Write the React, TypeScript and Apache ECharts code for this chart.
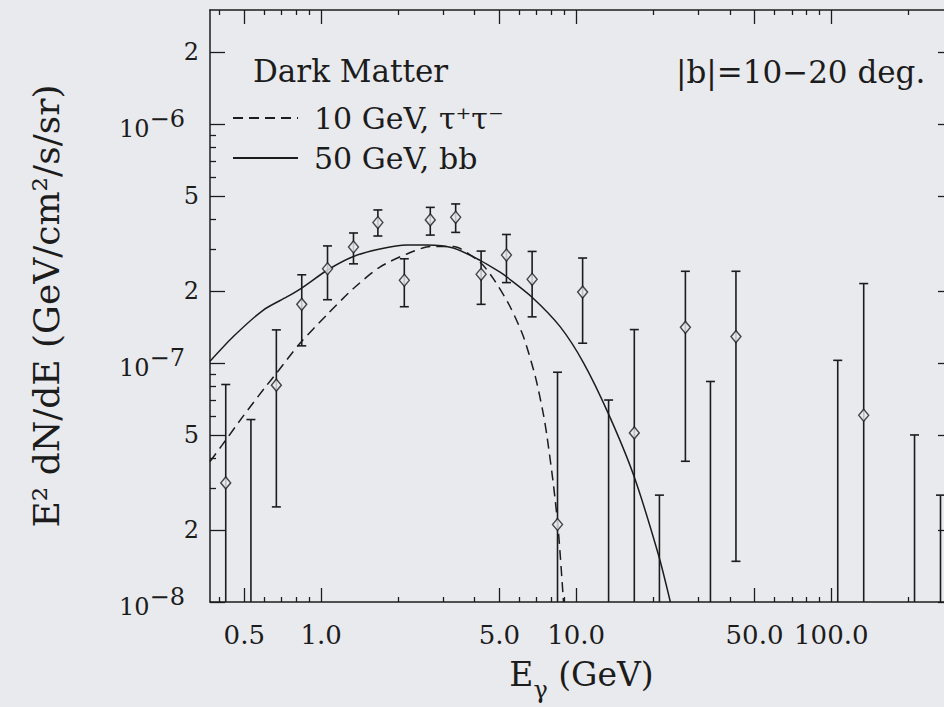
import React, { useEffect, useRef } from "react";
import * as echarts from "echarts";

// ---- data ----
const energies = [0.423, 0.531, 0.668, 0.84, 1.06, 1.34, 1.67, 2.12, 2.68, 3.37, 4.24, 5.33, 6.72, 8.45, 10.6, 13.4, 16.9, 21.2, 26.8, 33.6, 42.3, 106, 134, 212, 268];
const flux = [3.15e-8, null, 8.08e-8, 1.76e-7, 2.48e-7, 3.06e-7, 3.87e-7, 2.22e-7, 3.97e-7, 4.07e-7, 2.35e-7, 2.83e-7, 2.24e-7, 2.11e-8, 1.98e-7, null, 5.1e-8, null, 1.41e-7, null, 1.29e-7, null, 6.05e-8, null, null];
const errHigh = [8.13e-8, 5.8e-8, 1.376e-7, 2.34e-7, 3.09e-7, 3.5e-7, 4.37e-7, 2.73e-7, 4.48e-7, 4.63e-7, 2.94e-7, 3.45e-7, 2.93e-7, 9.15e-8, 2.75e-7, 7.0e-8, 1.38e-7, 2.8e-8, 2.42e-7, 8.37e-8, 2.42e-7, 1.026e-7, 2.15e-7, 5.0e-8, 2.8e-8];
const errLow = [null, null, 2.5e-8, 1.18e-7, 1.84e-7, 2.6e-7, 3.4e-7, 1.72e-7, 3.43e-7, 3.52e-7, 1.76e-7, 2.17e-7, 1.56e-7, null, 1.21e-7, null, null, null, 3.88e-8, null, 1.48e-8, null, null, null, null];

const tauName = "10 GeV, τ⁺τ⁻";
const tauE = [0.367, 0.408, 0.496, 0.603, 0.67, 0.827, 1.053, 1.339, 1.7, 2.17, 2.68, 3.3, 4.2, 4.74, 5.51, 6.21, 6.91, 7.44, 7.68, 8.15, 8.52, 8.92];
const tauF = [3.87e-8, 4.51e-8, 6.01e-8, 7.9e-8, 9.09e-8, 1.21e-7, 1.59e-7, 2.05e-7, 2.52e-7, 2.86e-7, 3.07e-7, 3.07e-7, 2.64e-7, 2.25e-7, 1.72e-7, 1.29e-7, 8.81e-8, 6.1e-8, 4.96e-8, 3.08e-8, 1.97e-8, 1.0e-8];

const bbName = "50 GeV, bb";
const bbE = [0.367, 0.453, 0.594, 0.734, 0.84, 1.06, 1.339, 1.7, 2.17, 2.6, 3.3, 4.2, 5.03, 5.35, 6.7, 8.65, 10.7, 13.4, 16.8, 21.0, 23.4];
const bbF = [1.016e-7, 1.29e-7, 1.666e-7, 1.89e-7, 2.06e-7, 2.45e-7, 2.79e-7, 3.0e-7, 3.12e-7, 3.12e-7, 3.03e-7, 2.69e-7, 2.4e-7, 2.29e-7, 1.89e-7, 1.42e-7, 1.0e-7, 6.11e-8, 3.39e-8, 1.58e-8, 1.0e-8];

const xMajorTicks = [0.5, 1, 5, 10, 50, 100];
const xTickLabels = ["0.5", "1.0", "5.0", "10.0", "50.0", "100.0"];
const xMinorTicks = [0.4, 0.6, 0.7, 0.8, 0.9, 2, 3, 4, 6, 7, 8, 9, 20, 30, 40, 60, 70, 80, 90, 200];
const yMajorTicks = [1e-8, 2e-8, 5e-8, 1e-7, 2e-7, 5e-7, 1e-6, 2e-6];
const yTickLabels = ["10^−8", "2", "5", "10^−7", "2", "5", "10^−6", "2"];
const yMinorTicks = [3e-8, 4e-8, 6e-8, 7e-8, 8e-8, 9e-8, 3e-7, 4e-7, 6e-7, 7e-7, 8e-7, 9e-7];

const X_MIN = 0.367;
const X_MAX = 300;
const Y_MIN = 1e-8;
const Y_MAX = 3e-6;

const L = (v: number) => Math.log10(v);
const BG = "#e9eaee";
const INK = "#1c1c1c";
const FONT = "DejaVu Serif";

function findLabel(v: number, ticks: number[], labels: string[]) {
  for (let i = 0; i < ticks.length; i++) {
    if (Math.abs(L(ticks[i]) - v) < 1e-6) return labels[i];
  }
  return "";
}

function buildOption() {
  const lxMin = L(X_MIN), lxMax = L(X_MAX), lyMin = L(Y_MIN), lyMax = L(Y_MAX);
  const xMaj = xMajorTicks.map(L);
  const xMin = xMinorTicks.map(L);
  const yMaj = yMajorTicks.map(L);
  const yMin = yMinorTicks.map(L);

  const lineSt = { color: INK, width: 1.5 };
  const tickSt = { color: INK, width: 1.3 };

  const xAxisOf = (position: string, showLine: boolean, ticks: number[], len: number, labels: boolean, extra: any = {}) => ({
    type: "value",
    min: lxMin,
    max: lxMax,
    position,
    splitLine: { show: false },
    axisLine: { show: showLine, onZero: false, lineStyle: lineSt },
    axisTick: { show: true, inside: true, length: len, customValues: ticks, lineStyle: tickSt },
    axisLabel: labels
      ? {
          show: true,
          customValues: ticks,
          margin: 20,
          fontSize: 26,
          fontFamily: FONT,
          color: INK,
          formatter: (v: number) => findLabel(v, xMajorTicks, xTickLabels),
        }
      : { show: false },
    ...extra,
  });

  const yAxisOf = (position: string, showLine: boolean, ticks: number[], len: number, labels: boolean, extra: any = {}) => ({
    type: "value",
    min: lyMin,
    max: lyMax,
    position,
    splitLine: { show: false },
    axisLine: { show: showLine, onZero: false, lineStyle: lineSt },
    axisTick: { show: true, inside: true, length: len, customValues: ticks, lineStyle: tickSt },
    axisLabel: labels
      ? {
          show: true,
          customValues: ticks,
          margin: 11,
          fontSize: 24,
          fontFamily: FONT,
          color: INK,
          formatter: (v: number) => {
            const s = findLabel(v, yMajorTicks, yTickLabels);
            if (s.indexOf("^") >= 0) {
              const [b, e] = s.split("^");
              return "{p|" + b + "}{e|" + e + "}";
            }
            return s;
          },
          rich: {
            p: { fontSize: 24, fontFamily: FONT, color: INK, lineHeight: 34, verticalAlign: "bottom" },
            e: { fontSize: 24, fontFamily: FONT, color: INK, verticalAlign: "top", padding: [0, 14, 0, 0] },
          },
        }
      : { show: false },
    ...extra,
  });

  const errData = energies.map((e, i) => [
    L(e),
    L(errHigh[i]),
    errLow[i] != null ? L(errLow[i] as number) : lyMin,
    errLow[i] != null ? 1 : 0,
  ]);
  const pts: number[][] = [];
  energies.forEach((e, i) => {
    if (flux[i] != null) pts.push([L(e), L(flux[i] as number)]);
  });
  const tau = tauE.map((e, i) => [L(e), L(tauF[i])]);
  const bb = bbE.map((e, i) => [L(e), L(bbF[i])]);

  return {
    animation: false,
    backgroundColor: BG,
    grid: { left: 210, right: 0, top: 10, bottom: 99.3, containLabel: false },
    legend: {
      orient: "vertical",
      left: 232,
      top: 103,
      padding: 0,
      itemWidth: 65,
      itemHeight: 14,
      itemGap: 10,
      selectedMode: false,
      itemStyle: { opacity: 0 },
      textStyle: { fontFamily: FONT, fontSize: 30, color: INK, lineHeight: 28, padding: [0, 0, 0, 11] },
      data: [tauName, bbName],
    },
    graphic: [
      { type: "text", x: 253, y: 55, style: { text: "Dark Matter", fontSize: 31, fontFamily: FONT, fill: INK } },
      { type: "text", x: 676, y: 56, style: { text: "|b|=10−20 deg.", fontSize: 31, fontFamily: FONT, fill: INK } },
    ],
    xAxis: [
      xAxisOf("bottom", true, xMaj, 14, true, {
        name: "{m|E}{s|γ}{m| (GeV)}",
        nameLocation: "middle",
        nameGap: 56,
        nameTextStyle: {
          rich: {
            m: { fontSize: 33, fontFamily: FONT, color: INK, lineHeight: 44, verticalAlign: "top" },
            s: { fontSize: 24, fontFamily: FONT, color: INK, verticalAlign: "bottom" },
          },
        },
      }),
      xAxisOf("bottom", false, xMin, 5, false),
      xAxisOf("top", true, xMaj, 14, false),
      xAxisOf("top", false, xMin, 5, false),
    ],
    yAxis: [
      yAxisOf("left", true, yMaj, 15, true, {
        name: "E² dN/dE (GeV/cm²/s/sr)",
        nameLocation: "middle",
        nameGap: 146,
        nameTextStyle: { fontSize: 36, fontFamily: FONT, color: INK, fontWeight: "normal" },
      }),
      yAxisOf("left", false, yMin, 6, false),
      yAxisOf("right", true, yMaj, 15, false),
      yAxisOf("right", false, yMin, 6, false),
    ],
    series: [
      {
        type: "custom",
        name: "errors",
        xAxisIndex: 0,
        yAxisIndex: 0,
        silent: true,
        z: 2,
        data: errData,
        renderItem: (params: any, api: any) => {
          const x = api.value(0);
          const top = api.coord([x, api.value(1)]);
          const bot = api.coord([x, api.value(2)]);
          const st = { stroke: INK, lineWidth: 1.6 };
          const children: any[] = [
            { type: "line", shape: { x1: top[0], y1: top[1], x2: bot[0], y2: bot[1] }, style: st },
            { type: "line", shape: { x1: top[0] - 4.5, y1: top[1], x2: top[0] + 4.5, y2: top[1] }, style: st },
          ];
          if (api.value(3)) {
            children.push({ type: "line", shape: { x1: bot[0] - 4.5, y1: bot[1], x2: bot[0] + 4.5, y2: bot[1] }, style: st });
          }
          return { type: "group", children };
        },
      },
      {
        type: "line",
        name: tauName,
        xAxisIndex: 0,
        yAxisIndex: 0,
        data: tau,
        symbol: "none",
        showSymbol: false,
        smooth: 0.25,
        color: INK,
        lineStyle: { color: INK, width: 1.5, type: [10, 6] },
        z: 3,
      },
      {
        type: "line",
        name: bbName,
        xAxisIndex: 0,
        yAxisIndex: 0,
        data: bb,
        symbol: "none",
        showSymbol: false,
        smooth: 0.25,
        color: INK,
        lineStyle: { color: INK, width: 1.5 },
        z: 3,
      },
      {
        type: "scatter",
        name: "data",
        xAxisIndex: 0,
        yAxisIndex: 0,
        data: pts,
        symbol: "diamond",
        symbolSize: [10, 12],
        itemStyle: { color: BG, borderColor: INK, borderWidth: 1.4 },
        z: 4,
      },
    ],
  };
}

export default function App() {
  const ref = useRef<HTMLDivElement>(null);
  useEffect(() => {
    if (!ref.current) return;
    const chart = echarts.init(ref.current, null, { renderer: "svg" });
    chart.setOption(buildOption() as any);
    return () => chart.dispose();
  }, []);
  return (
    <div
      style={{ position: "absolute", left: 0, top: 0, width: 944, height: 707, overflow: "hidden", background: BG }}
    >
      <div ref={ref} style={{ width: 953, height: 707 }} />
    </div>
  );
}
